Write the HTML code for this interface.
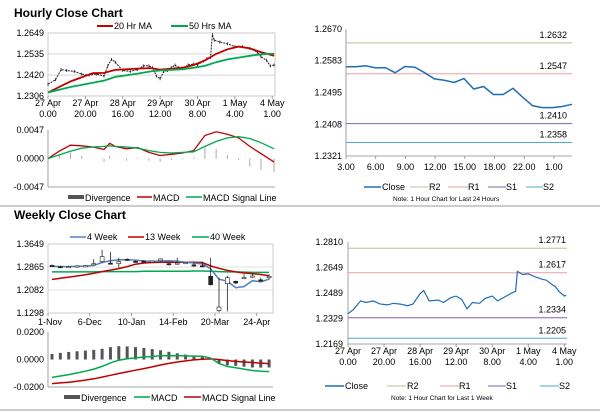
<!DOCTYPE html>
<html><head><meta charset="utf-8">
<style>
html,body{margin:0;padding:0;background:#fff;}
svg{display:block;font-family:"Liberation Sans",sans-serif;}
</style></head>
<body>
<svg id="c" width="600" height="413" viewBox="0 0 600 413" xmlns="http://www.w3.org/2000/svg"></svg>
<script>
// ---------- DATA ----------
// Hourly (top-left)
const hIdx = [0,4,7,10,14,18,22,26,30,32,34,36,40,44,48,51,54,56,58,60,62,64,66,68,70,72,75,78,80,83,85,87,88,89,92,96,100,104,108,112,114,117,119,121];
const hClose = [1.2370,1.2395,1.2450,1.2445,1.2440,1.2425,1.2420,1.2425,1.2415,1.2470,1.2505,1.2490,1.2445,1.2440,1.2450,1.2470,1.2470,1.2460,1.2415,1.2400,1.2440,1.2445,1.2460,1.2475,1.2460,1.2455,1.2475,1.2480,1.2475,1.2495,1.2510,1.2515,1.2640,1.2610,1.2600,1.2590,1.2575,1.2575,1.2565,1.2545,1.2520,1.2500,1.2470,1.2475];
const maIdx = [0,12,24,30,36,48,55,60,72,78,84,90,96,102,108,114,121];
const ma20 = [1.2325,1.2385,1.2430,1.2432,1.2448,1.2455,1.2458,1.2450,1.2460,1.2475,1.2500,1.2535,1.2560,1.2575,1.2565,1.2545,1.2525];
const ma50 = [1.2325,1.2355,1.2378,1.2390,1.2410,1.2428,1.2440,1.2445,1.2452,1.2460,1.2470,1.2490,1.2505,1.2515,1.2525,1.2533,1.2537];
const hMacdIdx = [0,6,12,18,24,30,33,36,42,48,54,60,66,72,78,84,90,96,102,108,114,121];
const hMacd = [0.0000,0.0012,0.0022,0.0021,0.0019,0.0015,0.0025,0.0020,0.0016,0.0018,0.0010,0.0005,0.0007,0.0009,0.0013,0.0038,0.0044,0.0040,0.0034,0.0020,0.0008,-0.0006];
const hSignal = [0.0000,0.0006,0.0012,0.0017,0.0019,0.0020,0.0021,0.0020,0.0019,0.0017,0.0013,0.0010,0.0009,0.0010,0.0011,0.0020,0.0028,0.0034,0.0036,0.0033,0.0026,0.0016];
const hTicks = ["27 Apr|0.00","27 Apr|20.00","28 Apr|16.00","29 Apr|12.00","30 Apr|8.00","1 May|4.00","4 May|1.00"];
// Hourly 24h (top-right)
const dTicks = ["3.00","6.00","9.00","12.00","15.00","18.00","22.00","1.00"];
const dClose = [1.2566,1.2566,1.2569,1.2563,1.2564,1.2550,1.2567,1.2565,1.2550,1.2533,1.2529,1.2523,1.2534,1.2505,1.2512,1.2490,1.2490,1.2507,1.2482,1.2459,1.2454,1.2454,1.2457,1.2463];
const dLevels = [1.2632,1.2547,1.2410,1.2358];
// Weekly (bottom-left)
const wTicks = ["1-Nov","6-Dec","10-Jan","14-Feb","20-Mar","24-Apr"];
const wOpen  = [1.292,1.288,1.287,1.288,1.289,1.296,1.305,1.300,1.298,1.313,1.306,1.307,1.306,1.308,1.298,1.300,1.298,1.294,1.291,1.255,1.138,1.230,1.238,1.250,1.255,1.243,1.250];
const wClose = [1.290,1.286,1.288,1.290,1.291,1.298,1.322,1.298,1.305,1.311,1.305,1.306,1.307,1.314,1.295,1.300,1.302,1.291,1.290,1.226,1.150,1.250,1.232,1.251,1.256,1.242,1.255];
const wHigh  = [1.295,1.291,1.291,1.293,1.293,1.313,1.345,1.338,1.318,1.316,1.309,1.310,1.309,1.316,1.300,1.318,1.305,1.302,1.305,1.318,1.250,1.256,1.240,1.262,1.265,1.250,1.262];
const wLow   = [1.287,1.283,1.284,1.285,1.288,1.294,1.302,1.296,1.284,1.308,1.303,1.303,1.303,1.305,1.292,1.296,1.296,1.286,1.286,1.224,1.132,1.135,1.228,1.245,1.250,1.236,1.244];
const wk4  = [1.289,1.288,1.288,1.289,1.289,1.292,1.302,1.308,1.311,1.311,1.310,1.307,1.306,1.307,1.308,1.306,1.303,1.300,1.297,1.280,1.245,1.238,1.216,1.220,1.240,1.236,1.245];
const wk13 = [1.244,1.248,1.252,1.256,1.260,1.265,1.271,1.276,1.281,1.288,1.296,1.300,1.302,1.303,1.303,1.303,1.303,1.303,1.302,1.290,1.282,1.275,1.270,1.266,1.264,1.261,1.257];
const wk40 = [1.270,1.270,1.270,1.270,1.270,1.270,1.271,1.271,1.271,1.271,1.271,1.272,1.272,1.272,1.272,1.272,1.272,1.273,1.273,1.272,1.271,1.270,1.270,1.269,1.268,1.268,1.268];
const wMacd = [-0.0130,-0.0120,-0.0110,-0.0098,-0.0085,-0.0070,-0.0050,-0.0025,-0.0005,0.0005,0.0012,0.0018,0.0022,0.0027,0.0028,0.0027,0.0026,0.0025,0.0024,0.0010,-0.0030,-0.0050,-0.0060,-0.0070,-0.0080,-0.0085,-0.0088];
const wSignal = [-0.0175,-0.0170,-0.0165,-0.0158,-0.0150,-0.0140,-0.0128,-0.0115,-0.0102,-0.0090,-0.0078,-0.0066,-0.0054,-0.0040,-0.0028,-0.0018,-0.0010,-0.0003,0.0002,0.0004,0.0000,-0.0008,-0.0014,-0.0018,-0.0022,-0.0026,-0.0030];
const wDiv = [0.0040,0.0048,0.0055,0.0060,0.0065,0.0070,0.0078,0.0090,0.0097,0.0095,0.0090,0.0084,0.0076,0.0067,0.0056,0.0045,0.0036,0.0028,0.0022,0.0006,-0.0030,-0.0042,-0.0046,-0.0052,-0.0058,-0.0059,-0.0058];
// 1 week hourly (bottom-right)
const bIdx = [0,3,7,10,14,18,22,25,29,33,36,40,42,45,50,53,57,60,63,66,69,73,76,80,83,87,91,93,94,97,100,104,108,110,113,115,117,120,121];
const bClose = [1.2360,1.2385,1.2440,1.2430,1.2440,1.2420,1.2415,1.2425,1.2420,1.2410,1.2420,1.2485,1.2505,1.2440,1.2445,1.2430,1.2460,1.2470,1.2450,1.2390,1.2430,1.2425,1.2455,1.2470,1.2440,1.2465,1.2490,1.2500,1.2625,1.2605,1.2610,1.2590,1.2575,1.2570,1.2545,1.2530,1.2500,1.2470,1.2475];
const bLevels = [1.2771,1.2617,1.2334,1.2205];

// ---------- HELPERS ----------
const svg = document.getElementById('c');
const NS = 'http://www.w3.org/2000/svg';
function mk(tag, name, attrs){
  const el = document.createElementNS(NS, tag);
  
  
  for (const k in attrs) el.setAttribute(k, attrs[k]);
  svg.appendChild(el);
  return el;
}
function txt(name, x, y, s, opts){
  const o = Object.assign({x:x, y:y, 'font-size':9, fill:'#000'}, opts||{});
  const t = mk('text', name, o);
  t.textContent = s;
  return t;
}
function lin(d0,d1,r0,r1){ return v => r0 + (v-d0)/(d1-d0)*(r1-r0); }
function pathOf(xs, ys, fx, fy){ return xs.map((v,i)=>(i?'L':'M')+fx(v).toFixed(1)+','+fy(ys[i]).toFixed(1)).join(''); }
function line(name, x1,y1,x2,y2,c,w){ return mk('line', name, {x1,y1,x2,y2,stroke:c,'stroke-width':w||1}); }
const RED='#c00000', GREEN='#00a850', BLUE='#1f6db5', GRID='#bfbfbf';

// titles & separators
txt('hourly-title', 14, 17, 'Hourly Close Chart', {'font-size':12,'font-weight':'bold'});
txt('weekly-title', 14, 219, 'Weekly Close Chart', {'font-size':12,'font-weight':'bold'});
line('section-separator', 0, 206, 600, 206, '#999', 1);
line('bottom-border', 0, 410, 600, 410, '#999', 1);

// ---------- TOP-LEFT price ----------
(function(){
  const x = lin(0,121.5,48,275), y = lin(1.2306,1.2649,96,33);
  const yt=[1.2649,1.2535,1.2420,1.2306];
  yt.forEach((v,i)=>{ if(i>0&&i<3) line('tl-gridline', 48, y(v), 275, y(v), GRID, 0.6);
    txt('tl-y-tick', 44, y(v)+3, v.toFixed(4), {'text-anchor':'end'}); });
  mk('rect','tl-plot-frame',{x:48,y:33,width:227,height:63,fill:'none',stroke:GRID,'stroke-width':0.8});
  hTicks.forEach((s,i)=>{ const xx=x(i*20); const p=s.split('|');
    line('tl-x-tickmark', xx, 96, xx, 99, '#888', 0.8);
    txt('tl-x-tick', xx, 106, p[0], {'text-anchor':'middle'});
    txt('tl-x-tick', xx, 117, p[1], {'text-anchor':'middle'}); });
  mk('path','tl-close-series',{d:pathOf(hIdx,hClose,x,y),fill:'none',stroke:'#222','stroke-width':1,'stroke-dasharray':'2,1'});
  hIdx.forEach((v,i)=>line('tl-close-candle', x(v), y(hClose[i])-1.5, x(v), y(hClose[i])+1.5, '#222', 0.8));
  mk('path','tl-ma20-line',{d:pathOf(maIdx,ma20,x,y),fill:'none',stroke:RED,'stroke-width':1.8});
  mk('path','tl-ma50-line',{d:pathOf(maIdx,ma50,x,y),fill:'none',stroke:GREEN,'stroke-width':1.8});
  line('legend-ma20-swatch', 97, 26, 113, 26, RED, 2); txt('legend-ma20', 114, 29, '20 Hr MA');
  line('legend-ma50-swatch', 171, 26, 188, 26, GREEN, 2); txt('legend-ma50', 189, 29, '50 Hrs MA');
})();

// ---------- TOP-LEFT MACD ----------
(function(){
  const x = lin(0,121.5,48,275), y = lin(-0.0047,0.0047,187,130);
  [0.0047,0,-0.0047].forEach(v=>txt('tl-macd-y-tick', 44, y(v)+3, v.toFixed(4), {'text-anchor':'end'}));
  line('tl-macd-axis', 48, 130, 48, 187, '#888', 0.8);
  line('tl-macd-baseline', 48, 187, 275, 187, '#888', 0.8);
  hMacdIdx.forEach((v,i)=>{ const d=hMacd[i]-hSignal[i];
    mk('rect','tl-divergence-bar',{x:x(v)-0.5,y:Math.min(y(0),y(d)),width:1,height:Math.abs(y(d)-y(0))+0.3,fill:'#aaa'}); });
  mk('path','tl-macd-line',{d:pathOf(hMacdIdx,hMacd,x,y),fill:'none',stroke:RED,'stroke-width':1.3});
  mk('path','tl-signal-line',{d:pathOf(hMacdIdx,hSignal,x,y),fill:'none',stroke:GREEN,'stroke-width':1.3});
  mk('rect','legend-divergence-swatch',{x:68,y:195,width:16,height:4,fill:'#555'}); txt('legend-divergence', 85, 201, 'Divergence');
  line('legend-macd-swatch', 137, 197, 152, 197, RED, 1.5); txt('legend-macd', 153, 201, 'MACD');
  line('legend-signal-swatch', 186, 197, 202, 197, GREEN, 1.5); txt('legend-signal', 203, 201, 'MACD Signal Line');
})();

// ---------- TOP-RIGHT ----------
(function(){
  const x = lin(0,dClose.length-1,346,572), y = lin(1.2321,1.2670,156,29);
  [1.2670,1.2583,1.2495,1.2408,1.2321].forEach(v=>txt('tr-y-tick', 342, y(v)+3, v.toFixed(4), {'text-anchor':'end'}));
  line('tr-y-axis', 346, 29, 346, 156, '#888', 0.8);
  line('tr-x-axis', 346, 156, 572, 156, '#888', 0.8);
  dTicks.forEach((s,i)=>{ const xx=346+i*29.7;
    line('tr-x-tickmark', xx, 156, xx, 159, '#888', 0.8);
    txt('tr-x-tick', xx, 170, s, {'text-anchor':'middle'}); });
  const lc=['#c4bd97','#e6a0a0','#8064a2','#4bacc6'], ln=['r2','r1','s1','s2'];
  dLevels.forEach((v,i)=>{ line('tr-'+ln[i]+'-line', 346, y(v), 572, y(v), lc[i], 1);
    txt('tr-'+ln[i]+'-label', 567, y(v)-5, v.toFixed(4), {'text-anchor':'end'}); });
  mk('path','tr-close-line',{d:pathOf(dClose.map((_,i)=>i),dClose,x,y),fill:'none',stroke:BLUE,'stroke-width':1.5});
  line('legend-close-swatch', 364, 187, 381, 187, BLUE, 1.5); txt('legend-close', 382, 190, 'Close');
  line('legend-r2-swatch', 410, 187, 428, 187, lc[0], 1); txt('legend-r2', 429, 190, 'R2');
  line('legend-r1-swatch', 448, 187, 468, 187, lc[1], 1); txt('legend-r1', 468, 190, 'R1');
  line('legend-s1-swatch', 488, 187, 506, 187, lc[2], 1); txt('legend-s1', 506, 190, 'S1');
  line('legend-s2-swatch', 526, 187, 543, 187, lc[3], 1); txt('legend-s2', 543, 190, 'S2');
  txt('tr-note', 393, 201, 'Note: 1 Hour Chart for Last 24 Hours', {'font-size':6.5});
})();

// ---------- BOTTOM-LEFT weekly price ----------
(function(){
  const x = i => 48 + 8.35*i + 4, y = lin(1.1298,1.3649,313,244);
  [1.3649,1.2865,1.2082,1.1298].forEach((v,i)=>{ if(i>0&&i<3) line('bl-gridline', 48, y(v), 273, y(v), GRID, 0.6);
    txt('bl-y-tick', 44, y(v)+3, v.toFixed(4), {'text-anchor':'end'}); });
  mk('rect','bl-plot-frame',{x:48,y:244,width:225,height:69,fill:'none',stroke:GRID,'stroke-width':0.8});
  wTicks.forEach((s,i)=>{ const xx=48+i*5*8.35; line('bl-x-tickmark', xx, 313, xx, 316, '#888', 0.8);
    txt('bl-x-tick', xx+ (i==0?2:0), 325, s, {'text-anchor':'middle'}); });
  const idx = wOpen.map((_,i)=>i);
  mk('path','bl-40wk-line',{d:pathOf(idx,wk40,x,y),fill:'none',stroke:GREEN,'stroke-width':1.5});
  mk('path','bl-13wk-line',{d:pathOf(idx,wk13,x,y),fill:'none',stroke:RED,'stroke-width':1.5});
  mk('path','bl-4wk-line',{d:pathOf(idx,wk4,x,y),fill:'none',stroke:'#4f81bd','stroke-width':1.5});
  wOpen.forEach((o,i)=>{ const c=wClose[i], xx=x(i);
    line('bl-candle-wick', xx, y(wHigh[i]), xx, y(wLow[i]), '#222', 0.8);
    const t=Math.min(y(o),y(c)), h=Math.max(1.2,Math.abs(y(o)-y(c)));
    mk('rect','bl-candle-body',{x:xx-2,y:t,width:4,height:h,fill:c>=o?'#fff':'#222',stroke:'#222','stroke-width':0.6}); });
  line('legend-4wk-swatch', 70, 237, 86, 237, '#4f81bd', 1.5); txt('legend-4wk', 87, 240, '4 Week');
  line('legend-13wk-swatch', 128, 237, 144, 237, RED, 1.5); txt('legend-13wk', 145, 240, '13 Week');
  line('legend-40wk-swatch', 192, 237, 209, 237, GREEN, 1.5); txt('legend-40wk', 210, 240, '40 Week');
})();

// ---------- BOTTOM-LEFT weekly MACD ----------
(function(){
  const x = i => 48 + 8.35*i + 4, y = lin(-0.02,0.02,387,332);
  [0.02,0,-0.02].forEach(v=>txt('bl-macd-y-tick', 44, y(v)+3, v.toFixed(4), {'text-anchor':'end'}));
  line('bl-macd-axis', 48, 332, 48, 387, '#888', 0.8);
  line('bl-macd-baseline', 48, 387, 273, 387, '#888', 0.8);
  wDiv.forEach((d,i)=>mk('rect','bl-divergence-bar',{x:x(i)-1.5,y:Math.min(y(0),y(d)),width:3,height:Math.abs(y(d)-y(0)),fill:'#555'}));
  const idx = wMacd.map((_,i)=>i);
  mk('path','bl-signal-line',{d:pathOf(idx,wSignal,x,y),fill:'none',stroke:RED,'stroke-width':1.5});
  mk('path','bl-macd-line',{d:pathOf(idx,wMacd,x,y),fill:'none',stroke:GREEN,'stroke-width':1.5});
  mk('rect','legend-w-divergence-swatch',{x:64,y:395,width:16,height:4,fill:'#555'}); txt('legend-w-divergence', 81, 401, 'Divergence');
  line('legend-w-macd-swatch', 134, 397, 150, 397, GREEN, 1.5); txt('legend-w-macd', 151, 401, 'MACD');
  line('legend-w-signal-swatch', 184, 397, 201, 397, RED, 1.5); txt('legend-w-signal', 202, 401, 'MACD Signal Line');
})();

// ---------- BOTTOM-RIGHT ----------
(function(){
  const x = lin(0,121.5,348,567), y = lin(1.2169,1.2810,344,242);
  [1.2810,1.2649,1.2489,1.2329,1.2169].forEach(v=>txt('br-y-tick', 343, y(v)+3, v.toFixed(4), {'text-anchor':'end'}));
  line('br-y-axis', 348, 242, 348, 344, '#888', 0.8);
  line('br-x-axis', 348, 344, 567, 344, '#888', 0.8);
  hTicks.forEach((s,i)=>{ const xx=x(i*20); const p=s.split('|');
    line('br-x-tickmark', xx, 344, xx, 347, '#888', 0.8);
    txt('br-x-tick', xx, 354, p[0], {'text-anchor':'middle'});
    txt('br-x-tick', xx, 365, p[1], {'text-anchor':'middle'}); });
  const lc=['#c4bd97','#e6a0a0','#8064a2','#4bacc6'], ln=['r2','r1','s1','s2'];
  bLevels.forEach((v,i)=>{ line('br-'+ln[i]+'-line', 348, y(v), 567, y(v), lc[i], 1);
    txt('br-'+ln[i]+'-label', 566, y(v)-5, v.toFixed(4), {'text-anchor':'end'}); });
  mk('path','br-close-line',{d:pathOf(bIdx,bClose,x,y),fill:'none',stroke:BLUE,'stroke-width':1.2});
  line('legend-b-close-swatch', 325, 386, 344, 386, BLUE, 1.5); txt('legend-b-close', 345, 389, 'Close');
  line('legend-b-r2-swatch', 387, 386, 406, 386, lc[0], 1); txt('legend-b-r2', 407, 389, 'R2');
  line('legend-b-r1-swatch', 440, 386, 459, 386, lc[1], 1); txt('legend-b-r1', 459, 389, 'R1');
  line('legend-b-s1-swatch', 488, 386, 506, 386, lc[2], 1); txt('legend-b-s1', 506, 389, 'S1');
  line('legend-b-s2-swatch', 540, 386, 559, 386, lc[3], 1); txt('legend-b-s2', 559, 389, 'S2');
  txt('br-note', 391, 400, 'Note: 1 Hour Chart for Last 1 Week', {'font-size':6.5});
})();
</script>
</body></html>
